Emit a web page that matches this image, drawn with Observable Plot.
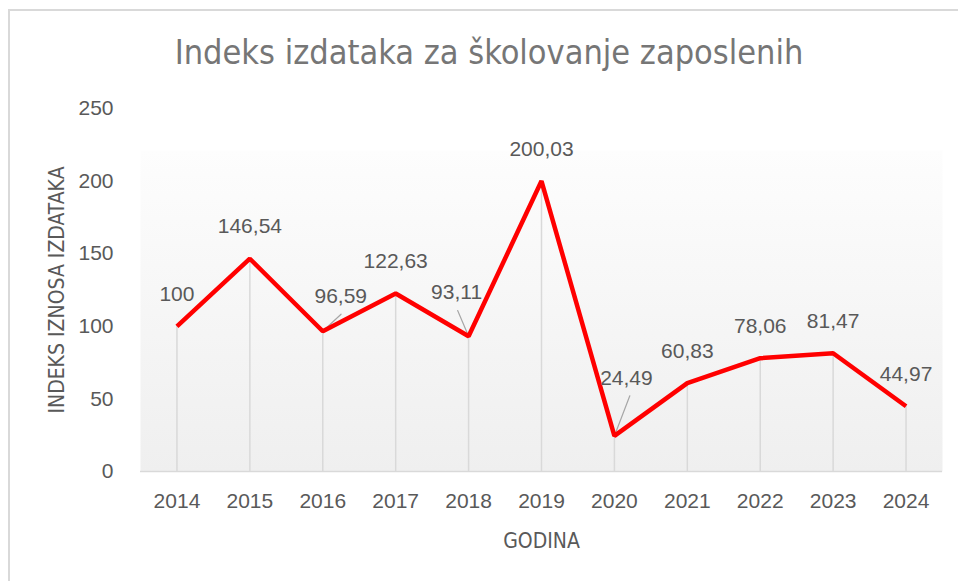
<!DOCTYPE html>
<html>
<head>
<meta charset="utf-8">
<script src="https://cdn.jsdelivr.net/npm/d3@7"></script>
<script src="https://cdn.jsdelivr.net/npm/@observablehq/plot@0.6"></script>
<style>
  html, body { margin: 0; padding: 0; background: #fff; overflow: hidden; }
  #wrap { position: relative; width: 958px; height: 581px; overflow: hidden; }
  #border { position: absolute; left: 8px; top: 9px; width: 1000px; height: 700px;
            border-top: 2px solid #d9d9d9; border-left: 2px solid #d9d9d9; }
  #title { position: absolute; left: 0; width: 978px; top: 32px; text-align: center;
           font-family: "Liberation Sans Narrow", "DejaVu Sans Condensed", sans-serif;
           font-stretch: condensed; font-size: 34px; color: #767676; }
  #chart { position: absolute; left: 0; top: 0; }
</style>
</head>
<body>
<div id="wrap">
  <div id="border"></div>
  <div id="title">Indeks izdataka za školovanje zaposlenih</div>
  <div id="chart"></div>
</div>
<script>
// ---- data ----
const years = ["2014","2015","2016","2017","2018","2019","2020","2021","2022","2023","2024"];
const values = [100, 146.54, 96.59, 122.63, 93.11, 200.03, 24.49, 60.83, 78.06, 81.47, 44.97];
const yTicks = [0, 50, 100, 150, 200, 250];
const yLabel = "INDEKS IZNOSA IZDATAKA";
const xLabel = "GODINA";

// label placement tweaks (styling, not data)
const labelOffsets = [
  {year: "2016", dx: 18, dy: -35},
  {year: "2018", dx: -12, dy: -44},
  {year: "2020", dx: 12, dy: -58}
];
const leaders = [
  {year: "2016", length: 25, rotate: 47},
  {year: "2018", length: 28, rotate: -23},
  {year: "2020", length: 43, rotate: 21}
];

const data = years.map((y, i) => ({year: y, value: values[i]}));
const fmt = v => String(v).replace(".", ",");
const special = new Set(labelOffsets.map(d => d.year));
const narrow = "'Liberation Sans Narrow', 'DejaVu Sans Condensed', sans-serif";
const regular = "'Liberation Sans', Arial, sans-serif";
const txt = "#595959";
const fs = 21;

const leaderData = leaders.map(l => ({...l, value: values[years.indexOf(l.year)]}));

const marks = [
  Plot.frame({fill: "url(#bg)", stroke: "none"}),
  Plot.ruleX(data, {x: "year", y1: 0, y2: "value", stroke: "#d9d9d9", strokeWidth: 1.5}),
  Plot.ruleY([0], {stroke: "#d9d9d9", strokeWidth: 1.5}),
  Plot.axisY({ticks: yTicks, tickSize: 0, tickPadding: 27, fontSize: fs, fill: txt,
              fontFamily: regular, label: null}),
  Plot.axisX({tickSize: 0, tickPadding: 22, fontSize: fs, fill: txt, fontFamily: regular, label: null}),
  Plot.text([yLabel], {frameAnchor: "left", textAnchor: "middle", lineAnchor: "middle", dx: -83, rotate: -90,
              fontSize: 21, fill: txt, fontFamily: narrow}),
  Plot.text([xLabel], {frameAnchor: "bottom", textAnchor: "middle", lineAnchor: "middle", dy: 70,
              fontSize: 21, fill: txt, fontFamily: narrow}),
  Plot.vector(leaderData, {x: "year", y: "value", length: "length", rotate: "rotate",
              anchor: "start", stroke: "#a6a6a6", strokeWidth: 1.2,
              shape: {draw(ctx, l) { ctx.moveTo(0, 0); ctx.lineTo(0, -l); }}}),
  Plot.line(data, {x: "year", y: "value", stroke: "#ff0000", strokeWidth: 4.5,
              strokeLinejoin: "miter", strokeLinecap: "butt"}),
  Plot.text(data.filter(d => !special.has(d.year)), {x: "year", y: "value", text: d => fmt(d.value),
              dy: -32, fontSize: fs, fill: txt, fontFamily: regular}),
  ...labelOffsets.map(o => Plot.text(data.filter(d => d.year === o.year), {x: "year", y: "value",
              text: d => fmt(d.value), dx: o.dx, dy: o.dy, fontSize: fs, fill: txt, fontFamily: regular}))
];

const chart = Plot.plot({
  width: 958,
  height: 581,
  marginLeft: 140,
  marginRight: 16,
  marginTop: 108,
  marginBottom: 110,
  style: {background: "transparent", overflow: "visible"},
  x: {type: "point", domain: years, padding: 0.5, round: false},
  y: {domain: [0, 250]},
  length: {type: "identity"},
  marks
});

const svg = d3.select(chart);
const defs = svg.insert("defs", ":first-child");
const g = defs.append("linearGradient").attr("id", "bg").attr("x1", 0).attr("y1", 0).attr("x2", 0).attr("y2", 1);
g.append("stop").attr("offset", 0).attr("stop-color", "#ffffff").attr("stop-opacity", 0);
g.append("stop").attr("offset", 0.115).attr("stop-color", "#ffffff").attr("stop-opacity", 0);
g.append("stop").attr("offset", 0.116).attr("stop-color", "#fdfdfd");
g.append("stop").attr("offset", 1).attr("stop-color", "#efefef");

document.getElementById("chart").appendChild(chart);
</script>
</body>
</html>
